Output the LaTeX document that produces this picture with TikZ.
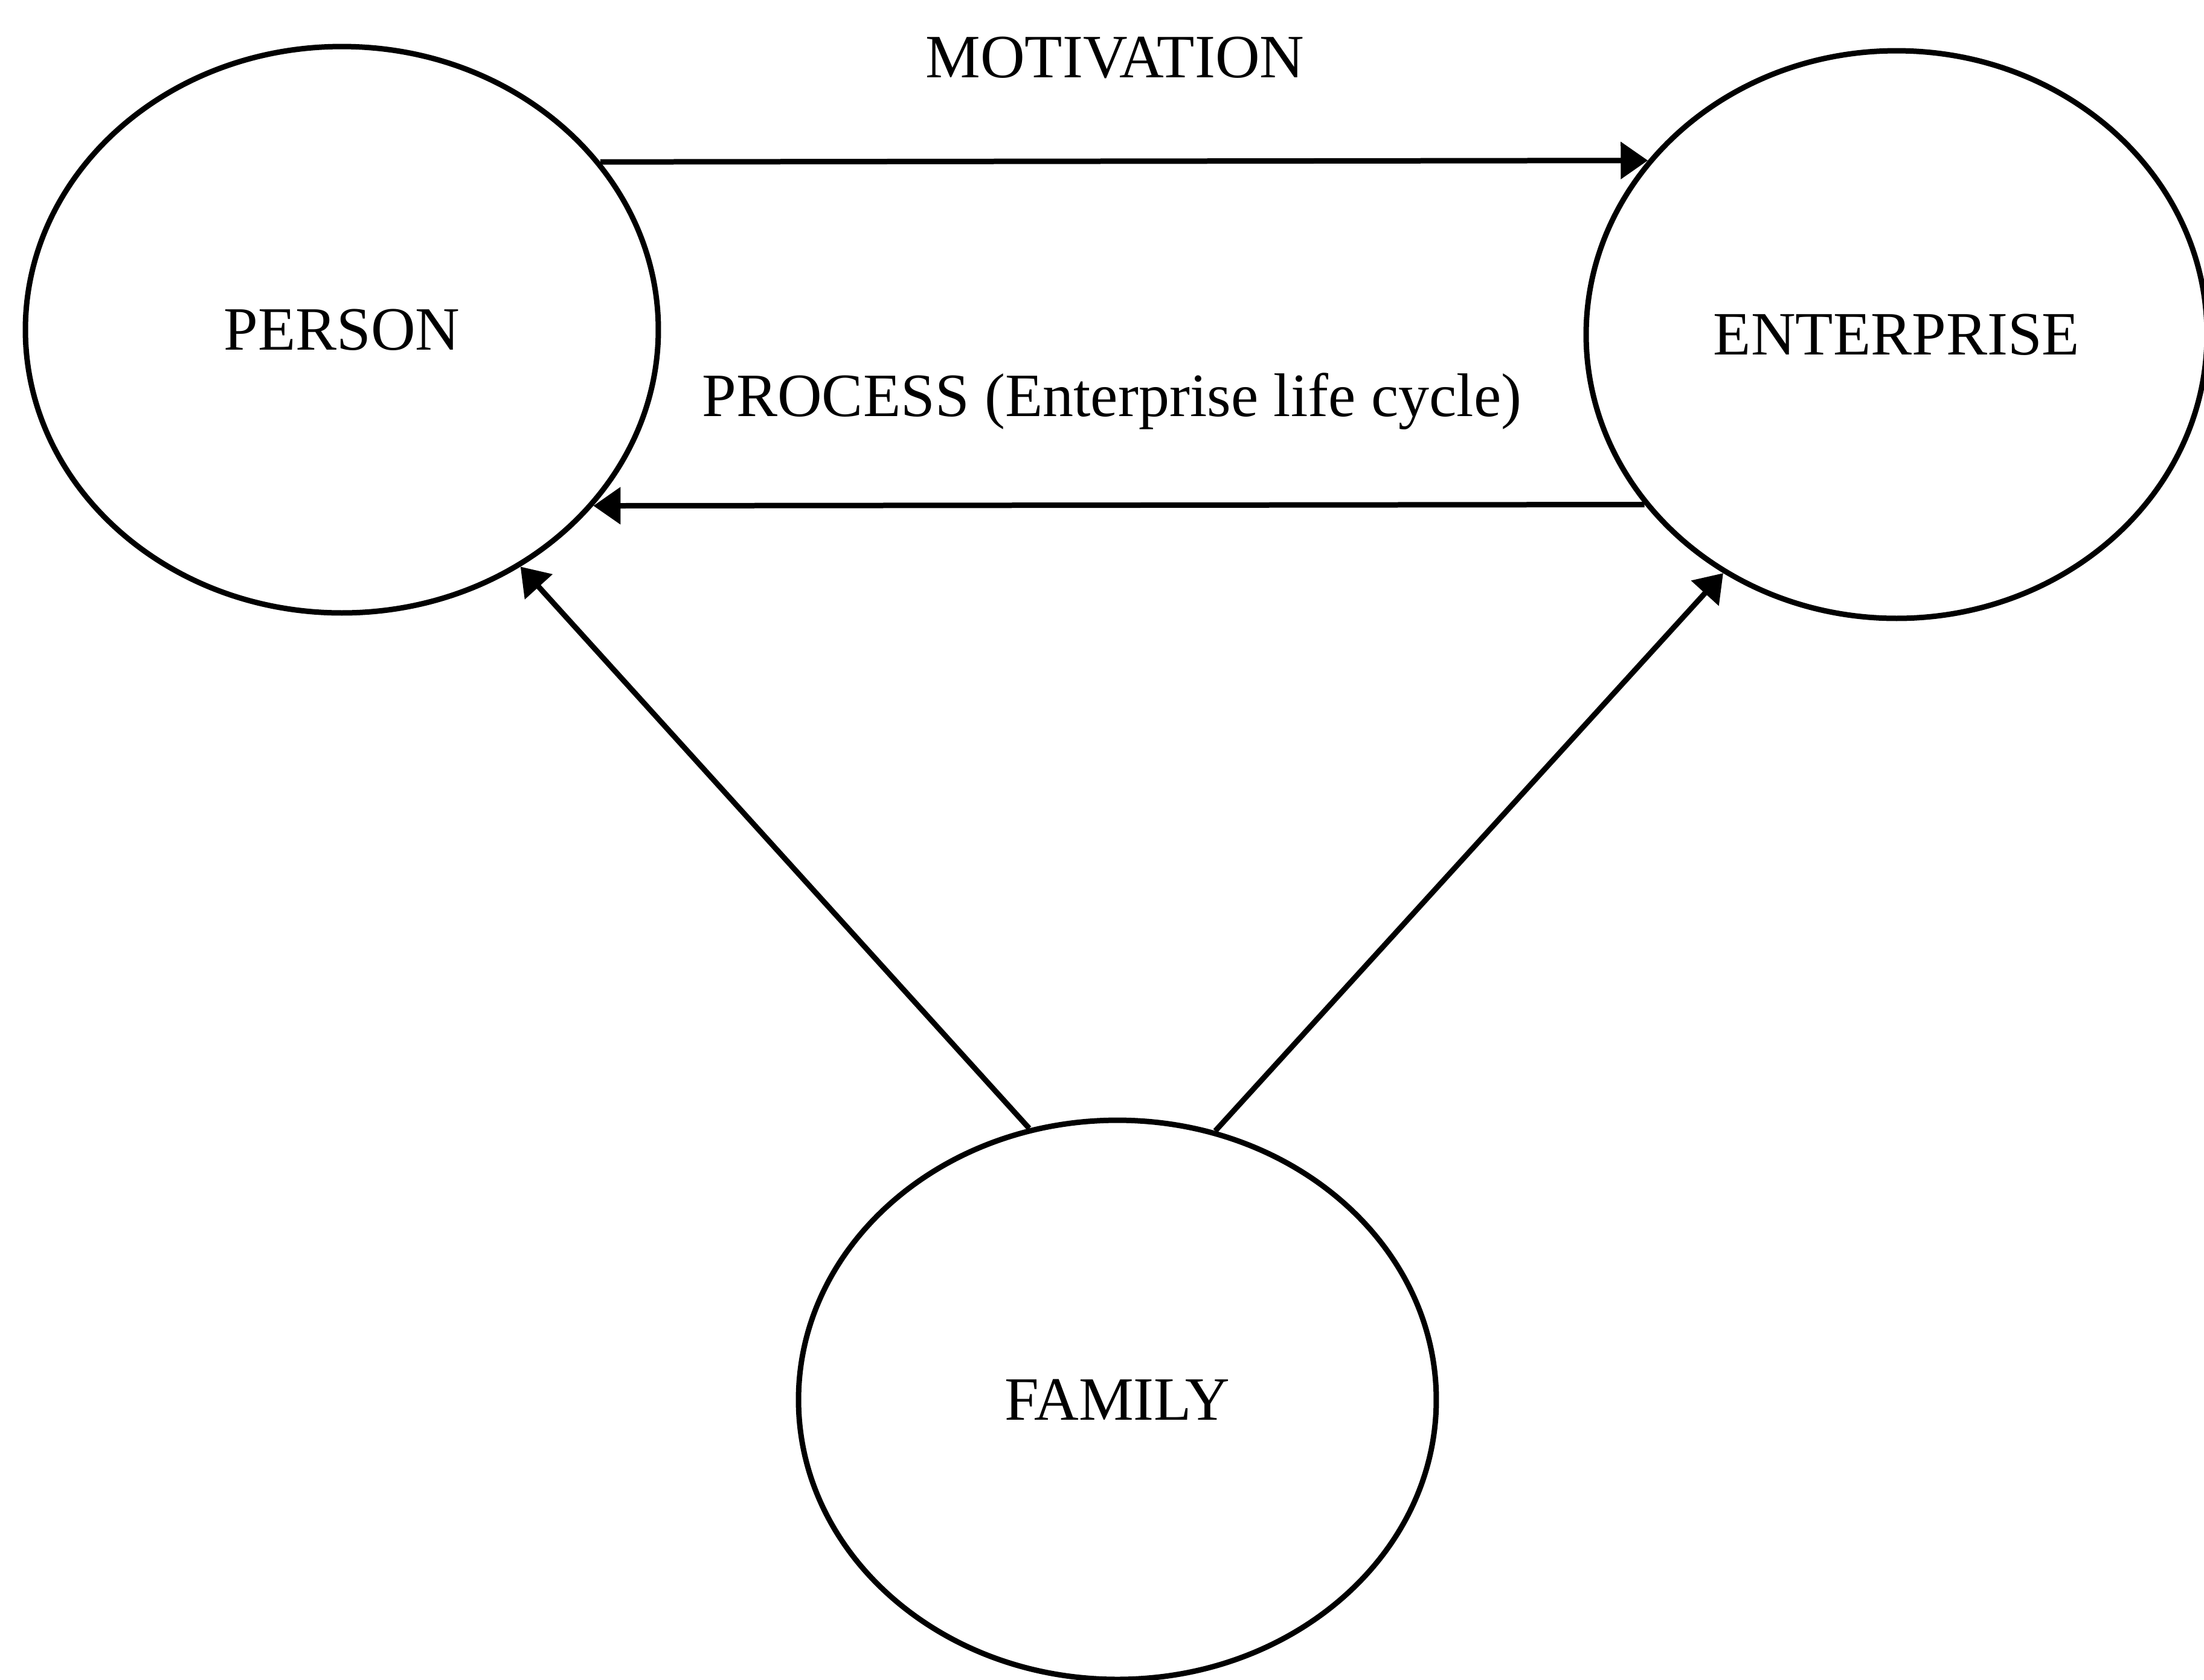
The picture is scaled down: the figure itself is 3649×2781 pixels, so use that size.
\documentclass[tikz,border=0pt]{standalone}
\usepackage{fontspec}
\setmainfont{Liberation Serif}
\usetikzlibrary{shapes.geometric,arrows.meta}
\begin{document}
\begin{tikzpicture}[x=0.1pt,y=-0.1pt,
  every node/.style={font=\fontsize{10.2}{12}\selectfont},
  blob/.style={ellipse,draw,line width=0.9pt,inner sep=0pt},
  conn/.style={line width=0.9pt,-{Triangle[length=4.5pt,width=6pt]}},
  lbl/.style={anchor=base,inner sep=0pt}]
\useasboundingbox (0,0) rectangle (3649,2781);
\node[blob,minimum width=104.8pt,minimum height=93.8pt] (person) at (566,546) {PERSON};
\node[blob,minimum width=102.8pt,minimum height=94pt] (enterprise) at (3140,554) {ENTERPRISE};
\node[blob,minimum width=105.6pt,minimum height=92.6pt] (family) at (1850,2318) {FAMILY};
\node[lbl] (motivation) at (1846,128) {MOTIVATION};
\node[lbl] (process) at (1841,689) {PROCESS (Enterprise life cycle)};
\draw[conn] (person.33.2) -- (enterprise.145.1);
\draw[conn] (enterprise.214.3) -- (person.-35);
\draw[conn] (family.108.1) -- (person.-53.8);
\draw[conn] (family.70.5) -- (enterprise.234.5);
\end{tikzpicture}
\end{document}
